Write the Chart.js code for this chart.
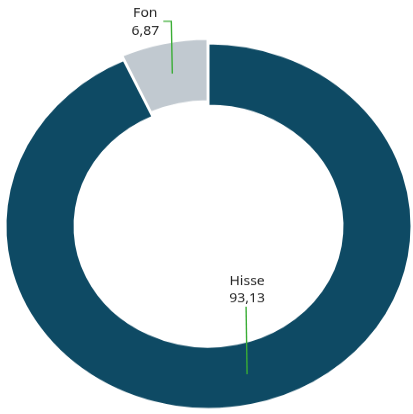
<!DOCTYPE html>
<html>
<head>
<meta charset="utf-8">
<script src="https://cdn.jsdelivr.net/npm/chart.js@4"></script>
<style>
  html, body { margin: 0; padding: 0; background: #fff; overflow: hidden; }
  body { width: 413px; height: 414px; position: relative; }
  #wrap {
    position: absolute; left: -3px; top: -1.7px;
    width: 426px; height: 464px;
    transform: scaleY(0.9); transform-origin: 0 0;
  }
</style>
</head>
<body>
<div id="wrap"><canvas id="chart"></canvas></div>
<script>
const categories = ['Hisse', 'Fon'];
const values = [93.13, 6.87];
const sliceColors = ['#0e4a64', '#c1c9d0'];

// callout lines: go up from the slice middle, optional short elbow, then the text
const callouts = [
  { nudge: 2.5, up: -75, side: -1, elbow: 0, tx: 1, ty1: -28, ty2: -9 },
  { nudge: 1, up: -58, side: -1, elbow: -8, tx: -18, ty1: -9, ty2: 11 }
];

const fmt = v => v.toFixed(2).replace('.', ',');

const calloutPlugin = {
  id: 'callouts',
  afterDatasetsDraw(chart) {
    const ctx = chart.ctx;
    const meta = chart.getDatasetMeta(0);
    meta.data.forEach((arc, i) => {
      const p = arc.getProps(['x', 'y', 'startAngle', 'endAngle', 'innerRadius', 'outerRadius'], true);
      const mid = (p.startAngle + p.endAngle) / 2;
      const off = chart.data.datasets[0].offset[i] || 0;
      const circ = p.endAngle - p.startAngle;
      const shift = off / 4 + (off / 4) * (1 - Math.sin(Math.min(Math.PI, circ)));
      const r = (p.innerRadius + p.outerRadius) / 2 + shift;
      const c = callouts[i];
      const ax = p.x + Math.cos(mid) * r + c.nudge;
      const ay = p.y + Math.sin(mid) * r;
      const vx = ax + c.side, vy = ay + c.up;
      const ex = vx + c.elbow;
      ctx.save();
      ctx.strokeStyle = '#3aad35';
      ctx.lineWidth = 1.4;
      ctx.beginPath();
      ctx.moveTo(ax, ay);
      ctx.lineTo(vx, vy);
      if (c.elbow) ctx.lineTo(ex, vy);
      ctx.stroke();
      ctx.fillStyle = '#262626';
      ctx.font = '14px "Noto Sans", sans-serif';
      ctx.textAlign = 'center';
      ctx.textBaseline = 'middle';
      ctx.fillText(categories[i], ex + c.tx, vy + c.ty1);
      ctx.fillText(fmt(values[i]), ex + c.tx, vy + c.ty2);
      ctx.restore();
    });
  }
};

new Chart(document.getElementById('chart'), {
  type: 'doughnut',
  data: {
    labels: categories,
    datasets: [{
      data: values,
      backgroundColor: sliceColors,
      borderColor: '#fff',
      borderWidth: 2,
      offset: [0, 13]
    }]
  },
  options: {
    responsive: true,
    maintainAspectRatio: false,
    animation: false,
    cutout: '66%',
    layout: { padding: { left: 1, right: 4, top: 43, bottom: 0 } },
    plugins: {
      legend: { display: false },
      tooltip: { enabled: false }
    },
    events: []
  },
  plugins: [calloutPlugin]
});
</script>
</body>
</html>
